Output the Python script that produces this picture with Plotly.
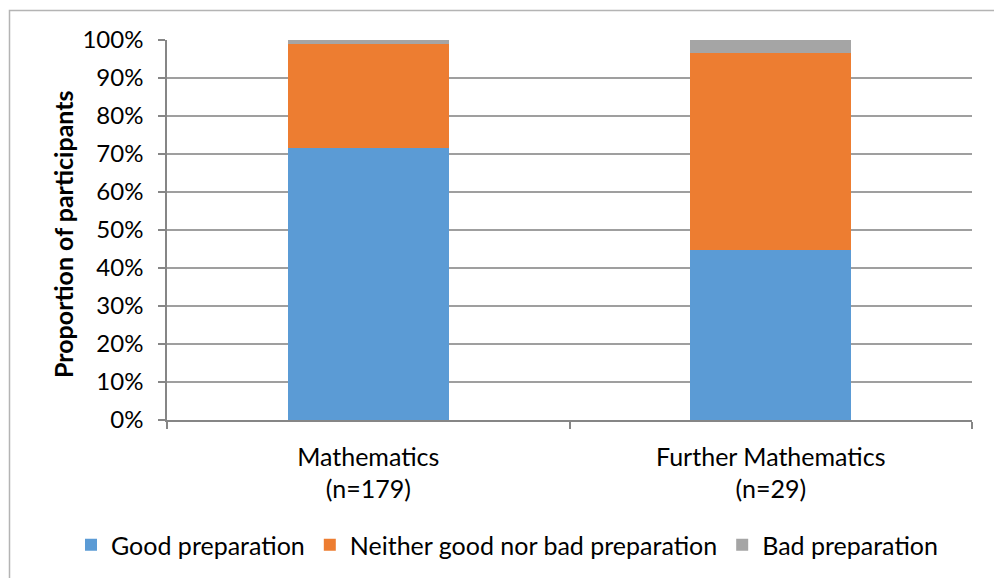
import plotly.graph_objects as go

# Survey results: share of participants per preparation rating (percent)
categories = ["Mathematics<br>(n=179)", "Further Mathematics<br>(n=29)"]
series_names = ["Good preparation", "Neither good nor bad preparation", "Bad preparation"]
good = [71.5, 44.8]
neither = [27.4, 51.7]
bad = [1.1, 3.5]
y_ticks = [0, 10, 20, 30, 40, 50, 60, 70, 80, 90, 100]
y_tick_text = [f"{v}%" for v in y_ticks]

colors = ["#5B9BD5", "#ED7D31", "#A5A5A5"]
FONT = "Lato"

fig = go.Figure()
for name, vals, col in zip(series_names, [good, neither, bad], colors):
    fig.add_trace(go.Bar(
        x=categories, y=vals, name=name,
        marker=dict(color=col, line=dict(width=0)),
        width=0.4,
    ))

# plot area: x 167..972 px, y 40..420 px
W, H = 994, 578
L, R, T, B = 167, 22, 40, 158
pw, ph = W - L - R, H - T - B

def px_x(p):
    return (p - L) / pw

def px_y(p):
    return (H - B - p) / ph

fig.update_layout(
    width=W, height=H,
    margin=dict(l=L, r=R, t=T, b=B, autoexpand=False),
    barmode="stack",
    paper_bgcolor="white", plot_bgcolor="white",
    font=dict(family=FONT, size=24, color="#000000"),
    showlegend=True,
    legend=dict(
        orientation="h",
        x=px_x(71), y=px_y(545),
        xanchor="left", yanchor="middle",
        font=dict(family=FONT, size=25, color="#000000"),
        itemwidth=30,
        traceorder="normal",
    ),
    xaxis=dict(
        type="category",
        automargin=False,
        showline=True, linecolor="#868686", linewidth=1.5,
        ticks="outside", tickson="boundaries", ticklen=7,
        tickcolor="#868686", tickwidth=1.5,
        showgrid=False,
        tickfont=dict(family=FONT, size=25, color="#000000"),
        ticklabelstandoff=14,
    ),
    yaxis=dict(
        range=[0, 100],
        automargin=False,
        tickvals=y_ticks, ticktext=y_tick_text,
        showline=True, linecolor="#868686", linewidth=1.5,
        ticks="outside", ticklen=7, tickcolor="#868686", tickwidth=1.5,
        showgrid=True, gridcolor="#9f9f9f", gridwidth=1.5,
        zeroline=False,
        tickfont=dict(family=FONT, size=24, color="#000000"),
        ticklabelstandoff=10,
    ),
    annotations=[dict(
        text="<b>Proportion of participants</b>",
        x=px_x(63), y=px_y(234), xref="paper", yref="paper",
        textangle=-90, showarrow=False,
        xanchor="center", yanchor="middle",
        font=dict(family=FONT, size=25, color="#000000"),
    )],
    shapes=[dict(
        type="rect", xref="paper", yref="paper",
        x0=px_x(9.5), x1=px_x(1010), y0=px_y(600), y1=px_y(10.5),
        line=dict(color="#b4b4b4", width=1.5),
        fillcolor="rgba(0,0,0,0)", layer="below",
    )],
)

fig.write_html("out.html")
